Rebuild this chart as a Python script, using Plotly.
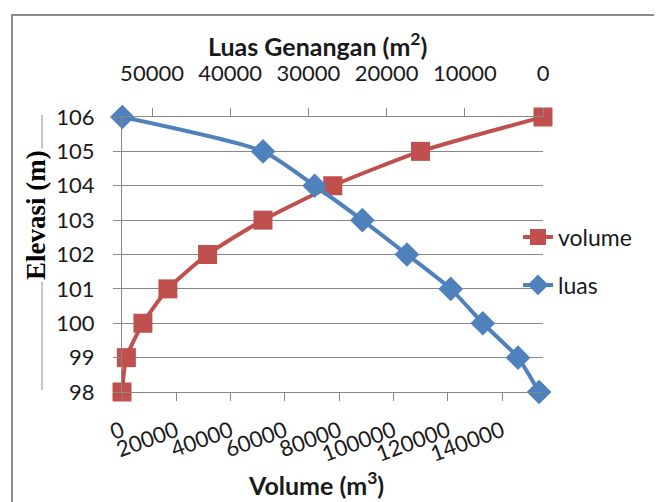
import plotly.graph_objects as go

elevasi = [98, 99, 100, 101, 102, 103, 104, 105, 106]
volume = [0, 1600, 7700, 16900, 31500, 51900, 77600, 109900, 155000]
luas = [500, 3200, 7700, 11800, 17400, 23100, 29200, 35800, 53800]

vol_ticks = [0, 20000, 40000, 60000, 80000, 100000, 120000, 140000]
luas_ticks = [0, 10000, 20000, 30000, 40000, 50000]
elev_ticks = [98, 99, 100, 101, 102, 103, 104, 105, 106]

RED = "#C0504D"
BLUE = "#4F81BD"
GRID = "#878787"
FONT = "Lato"
TXT = "#1a1a1a"

OFF = 8  # page body margin
W, H = 662 - OFF, 502 - OFF
ML, MR, MT, MB = 122 - OFF, 119, 117 - OFF, 110
PW, PH = W - ML - MR, H - MT - MB


def px(x):
    return (x - OFF - ML) / PW


def py(y):
    return (H - MB - (y - OFF)) / PH


fig = go.Figure()
fig.add_trace(go.Scatter(
    x=volume, y=elevasi, name="volume", mode="lines+markers",
    line=dict(color=RED, width=4, shape="spline", smoothing=0.6),
    marker=dict(symbol="square", size=19, color=RED),
    cliponaxis=False, xaxis="x", yaxis="y", legend="legend"))
fig.add_trace(go.Scatter(
    x=luas, y=elevasi, name="luas", mode="lines+markers",
    line=dict(color=BLUE, width=4, shape="spline", smoothing=0.6),
    marker=dict(symbol="diamond", size=19, color=BLUE),
    cliponaxis=False, xaxis="x2", yaxis="y", legend="legend2"))

fig.update_layout(
    width=W, height=H,
    margin=dict(l=ML, r=MR, t=MT, b=MB),
    paper_bgcolor="white", plot_bgcolor="white",
    font=dict(family=FONT, size=22, color=TXT),
    xaxis=dict(range=[0, 155000], tickvals=vol_ticks,
               ticktext=[str(v) for v in vol_ticks], tickangle=-20,
               showgrid=False, zeroline=False, showline=True, linecolor=GRID,
               linewidth=1, ticks="outside", ticklen=8, tickcolor=GRID,
               ticklabelstandoff=9),
    xaxis2=dict(range=[53840, 0], tickvals=luas_ticks,
                ticktext=[str(v) for v in luas_ticks],
                overlaying="x", side="top", anchor="y",
                showgrid=False, zeroline=False, showline=True, linecolor=GRID,
                linewidth=1, ticks="outside", ticklen=8, tickcolor=GRID,
                ticklabelstandoff=18),
    yaxis=dict(range=[98, 106], tickvals=elev_ticks, showgrid=True,
               gridcolor=GRID, gridwidth=1, zeroline=False, showline=True,
               linecolor=GRID, linewidth=1, ticks="outside", ticklen=8,
               tickcolor=GRID, ticklabelstandoff=14),
    legend=dict(x=px(518), y=py(237), xanchor="left", yanchor="middle",
                bgcolor="rgba(0,0,0,0)", font=dict(size=23, family=FONT)),
    legend2=dict(x=px(518), y=py(285), xanchor="left", yanchor="middle",
                 bgcolor="rgba(0,0,0,0)", font=dict(size=23, family=FONT)),
    showlegend=True,
)

# chart border (left and top visible)
fig.add_shape(type="rect", xref="paper", yref="paper",
              x0=px(12), y0=py(700), x1=px(900), y1=py(15),
              line=dict(color="#8c8c8c", width=2), layer="below")
# vertical line behind y title
fig.add_shape(type="line", xref="paper", yref="paper",
              x0=px(42), x1=px(42), y0=py(390), y1=py(115),
              line=dict(color="#8c8c8c", width=1), layer="below")

fig.add_annotation(text="<b>Luas Genangan (m<sup>2</sup>)</b>", xref="paper",
                   yref="paper", x=px(317), y=py(44), showarrow=False,
                   font=dict(size=25, family=FONT, color=TXT),
                   xanchor="center", yanchor="middle")
fig.add_annotation(text="<b>Volume (m<sup>3</sup>)</b>", xref="paper",
                   yref="paper", x=px(316), y=py(483), showarrow=False,
                   font=dict(size=25, family=FONT, color=TXT),
                   xanchor="center", yanchor="middle")
fig.add_annotation(text="<b>Elevasi (m)</b>", xref="paper", yref="paper",
                   x=px(36), y=py(215), showarrow=False, textangle=-90,
                   font=dict(size=27, family="Liberation Serif", color="black"),
                   bgcolor="white", xanchor="center", yanchor="middle")

fig.write_html("out.html")
